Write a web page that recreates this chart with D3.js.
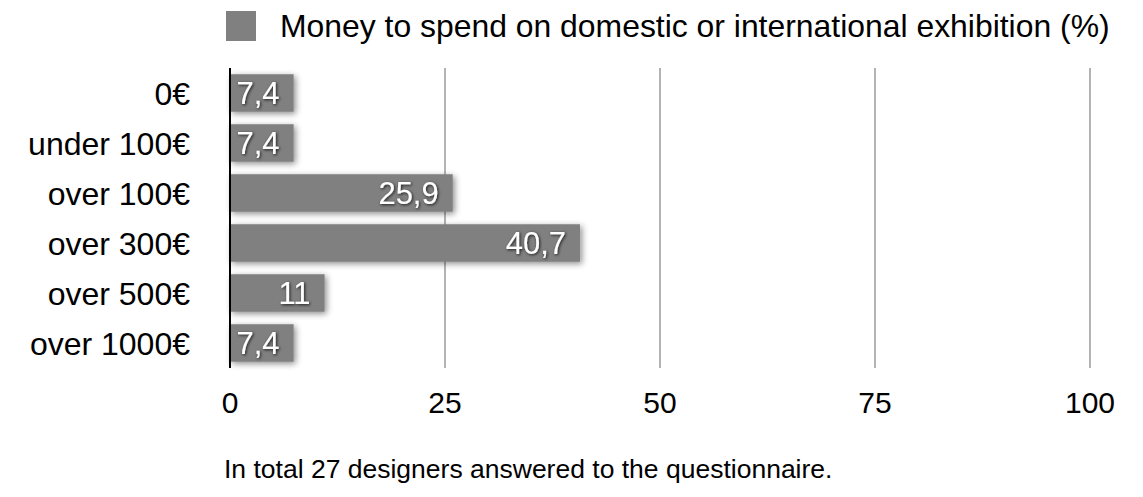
<!DOCTYPE html>
<html>
<head>
<meta charset="utf-8">
<script src="https://cdn.jsdelivr.net/npm/d3@7"></script>
<style>
  body { margin: 0; background: #fff; }
  text { font-family: "Liberation Sans", Arial, sans-serif; }
</style>
</head>
<body>
<script>
const width = 1143;
const height = 497;

const categories = ["0€", "under 100€", "over 100€", "over 300€", "over 500€", "over 1000€"];
const values = [7.4, 7.4, 25.9, 40.7, 11, 7.4];
const labels = ["7,4", "7,4", "25,9", "40,7", "11", "7,4"];
const ticks = [0, 25, 50, 75, 100];
const seriesName = "Money to spend on domestic or international exhibition (%)";
const note = "In total 27 designers answered to the questionnaire.";

const svg = d3.select("body").append("svg")
	.attr("width", width)
	.attr("height", height);

const defs = svg.append("defs");
const shadow = defs.append("filter").attr("id", "shadow")
	.attr("x", "-10%").attr("y", "-30%").attr("width", "130%").attr("height", "180%");
shadow.append("feDropShadow")
	.attr("dx", 2).attr("dy", 2).attr("stdDeviation", 3)
	.attr("flood-color", "#000").attr("flood-opacity", 0.45);

const tshadow = defs.append("filter").attr("id", "tshadow")
	.attr("x", "-20%").attr("y", "-30%").attr("width", "150%").attr("height", "170%");
tshadow.append("feDropShadow")
	.attr("dx", 1).attr("dy", 1).attr("stdDeviation", 1.5)
	.attr("flood-color", "#000").attr("flood-opacity", 0.8);

const x = d3.scaleLinear().domain([0, 100]).range([230, 1090]);
const y = d3.scaleBand().domain(categories).range([68, 368])
	.paddingInner(0.25).paddingOuter(0.125);

// grid
svg.append("g").selectAll("line")
	.data(ticks.slice(1))
	.join("line")
	.attr("x1", d => x(d)).attr("x2", d => x(d))
	.attr("y1", 68).attr("y2", 368)
	.attr("stroke", "#b3b3b3").attr("stroke-width", 2);

// bars
svg.append("g").selectAll("rect")
	.data(values)
	.join("rect")
	.attr("x", x(0))
	.attr("y", (d, i) => y(categories[i]))
	.attr("width", d => x(d) - x(0))
	.attr("height", y.bandwidth())
	.attr("fill", "#808080")
	.attr("filter", "url(#shadow)");

// value labels
svg.append("g").selectAll("text")
	.data(values)
	.join("text")
	.attr("x", d => x(d) - 14)
	.attr("y", (d, i) => y(categories[i]) + y.bandwidth() / 2)
	.attr("dy", "0.36em")
	.attr("text-anchor", "end")
	.attr("font-size", 31)
	.attr("fill", "#fff")
	.attr("filter", "url(#tshadow)")
	.text((d, i) => labels[i]);

// y axis line
svg.append("line")
	.attr("x1", x(0)).attr("x2", x(0))
	.attr("y1", 68).attr("y2", 368)
	.attr("stroke", "#000").attr("stroke-width", 2);

// category labels
svg.append("g").selectAll("text")
	.data(categories)
	.join("text")
	.attr("x", 190)
	.attr("y", d => y(d) + y.bandwidth() / 2)
	.attr("dy", "0.36em")
	.attr("text-anchor", "end")
	.attr("font-size", 32)
	.attr("fill", "#000")
	.text(d => d);

// x tick labels
svg.append("g").selectAll("text")
	.data(ticks)
	.join("text")
	.attr("x", d => x(d))
	.attr("y", 402)
	.attr("dy", "0.36em")
	.attr("text-anchor", "middle")
	.attr("font-size", 30)
	.attr("fill", "#000")
	.text(d => d);

// legend
svg.append("rect")
	.attr("x", 226).attr("y", 11)
	.attr("width", 30).attr("height", 30)
	.attr("fill", "#808080");
svg.append("text")
	.attr("x", 280).attr("y", 37)
	.attr("font-size", 31.9)
	.attr("fill", "#000")
	.text(seriesName);

// footnote
svg.append("text")
	.attr("x", 224).attr("y", 478)
	.attr("font-size", 26.5)
	.attr("fill", "#000")
	.text(note);
</script>
</body>
</html>
